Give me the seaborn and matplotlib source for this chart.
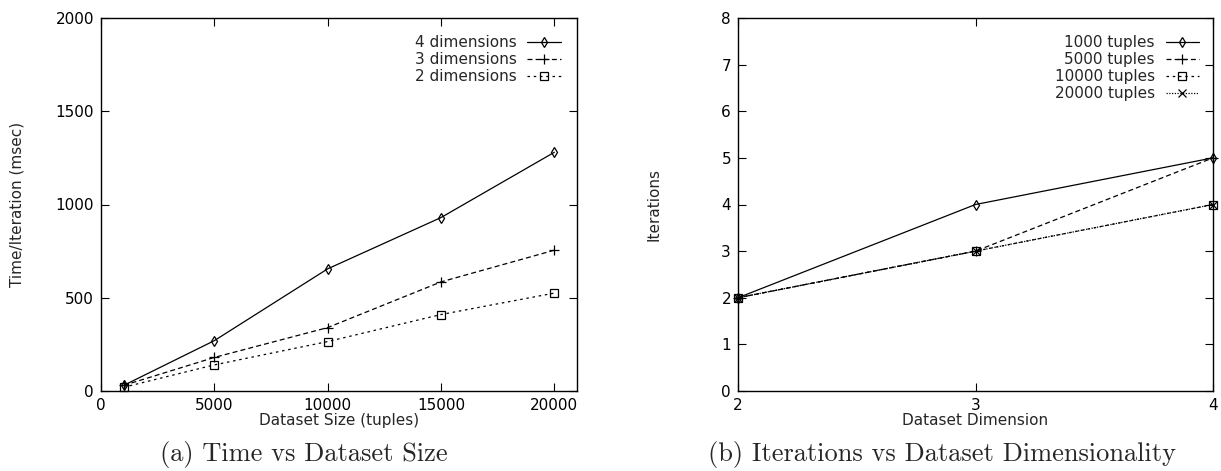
import matplotlib
matplotlib.use("Agg")
import matplotlib.pyplot as plt
import seaborn as sns
import pandas as pd

# Panel (a): time per iteration vs dataset size
sizes = [1000, 5000, 10000, 15000, 20000]
time_4d = [30, 270, 655, 930, 1280]
time_3d = [30, 180, 340, 585, 755]
time_2d = [20, 140, 265, 410, 525]

# Panel (b): iterations vs dataset dimension
dims = [2, 3, 4]
iter_1000 = [2, 4, 5]
iter_5000 = [2, 3, 5]
iter_10000 = [2, 3, 4]
iter_20000 = [2, 3, 4]

sns.set_theme(style="ticks")
plt.rcParams["font.family"] = ["DejaVu Sans"]
plt.rcParams["axes.linewidth"] = 1.0

fig = plt.figure(figsize=(12.21, 4.71), dpi=100)
W, H = 1221, 471
ax1 = fig.add_axes([101 / W, (H - 391) / H, (577 - 101) / W, (391 - 18) / H])
ax2 = fig.add_axes([738 / W, (H - 391) / H, (1213 - 738) / W, (391 - 18) / H])

lw = 0.9
msize = {"d": 5.5, "s": 6, "+": 7, "x": 6}


def draw(ax, xs, label, vals, mk, dash):
    df = pd.DataFrame({"x": xs, "y": vals})
    sns.lineplot(data=df, x="x", y="y", ax=ax, color="black", lw=lw, marker=mk,
                 markersize=msize[mk], markerfacecolor="none",
                 markeredgecolor="black", markeredgewidth=0.9,
                 label=label, clip_on=False)
    if dash is not None:
        ax.lines[-1].set_dashes(dash)


series_a = [
    ("4 dimensions", time_4d, "d", None),
    ("3 dimensions", time_3d, "+", (4, 2.5)),
    ("2 dimensions", time_2d, "s", (2, 3)),
]
for label, vals, mk, dash in series_a:
    draw(ax1, sizes, label, vals, mk, dash)

series_b = [
    ("1000 tuples", iter_1000, "d", None),
    ("5000 tuples", iter_5000, "+", (4, 2.5)),
    ("10000 tuples", iter_10000, "s", (2, 3)),
    ("20000 tuples", iter_20000, "x", (1, 1.2)),
]
for label, vals, mk, dash in series_b:
    draw(ax2, dims, label, vals, mk, dash)

fs = 11
ax1.set_xlim(0, 21000)
ax1.set_ylim(0, 2000)
ax1.set_xticks([0, 5000, 10000, 15000, 20000])
ax1.set_yticks([0, 500, 1000, 1500, 2000])
ax2.set_xlim(2, 4)
ax2.set_ylim(0, 8)
ax2.set_xticks([2, 3, 4])
ax2.set_yticks(range(0, 9))

for ax in (ax1, ax2):
    ax.tick_params(axis="both", which="both", direction="in", length=6, width=0.8,
                   top=True, right=True, labelsize=fs, pad=5, colors="black")
    for s in ax.spines.values():
        s.set_visible(True)
        s.set_color("black")

ax1.set_xlabel("Dataset Size (tuples)", fontsize=fs)
ax1.set_ylabel("Time/Iteration (msec)", fontsize=fs)
ax1.xaxis.set_label_coords(0.5, -0.06)
ax1.yaxis.set_label_coords(-0.16, 0.5)
ax2.set_xlabel("Dataset Dimension", fontsize=fs)
ax2.set_ylabel("Iterations", fontsize=fs)
ax2.xaxis.set_label_coords(0.5, -0.06)
ax2.yaxis.set_label_coords(-0.16, 0.5)

for ax, xa in ((ax1, 0.995), (ax2, 1.0)):
    ax.legend(loc="upper right", frameon=False, markerfirst=False, fontsize=fs,
              handlelength=2.2, handletextpad=0.7, labelspacing=0.12,
              borderaxespad=0.5, bbox_to_anchor=(xa, 0.99))

fig.text(304 / W, 1 - 454 / H, "(a) Time vs Dataset Size", family="cmr10",
         fontsize=19, ha="center", va="center")
fig.text(942 / W, 1 - 454 / H, "(b) Iterations vs Dataset Dimensionality", family="cmr10",
         fontsize=19, ha="center", va="center")

fig.savefig("out.png", dpi=100)
